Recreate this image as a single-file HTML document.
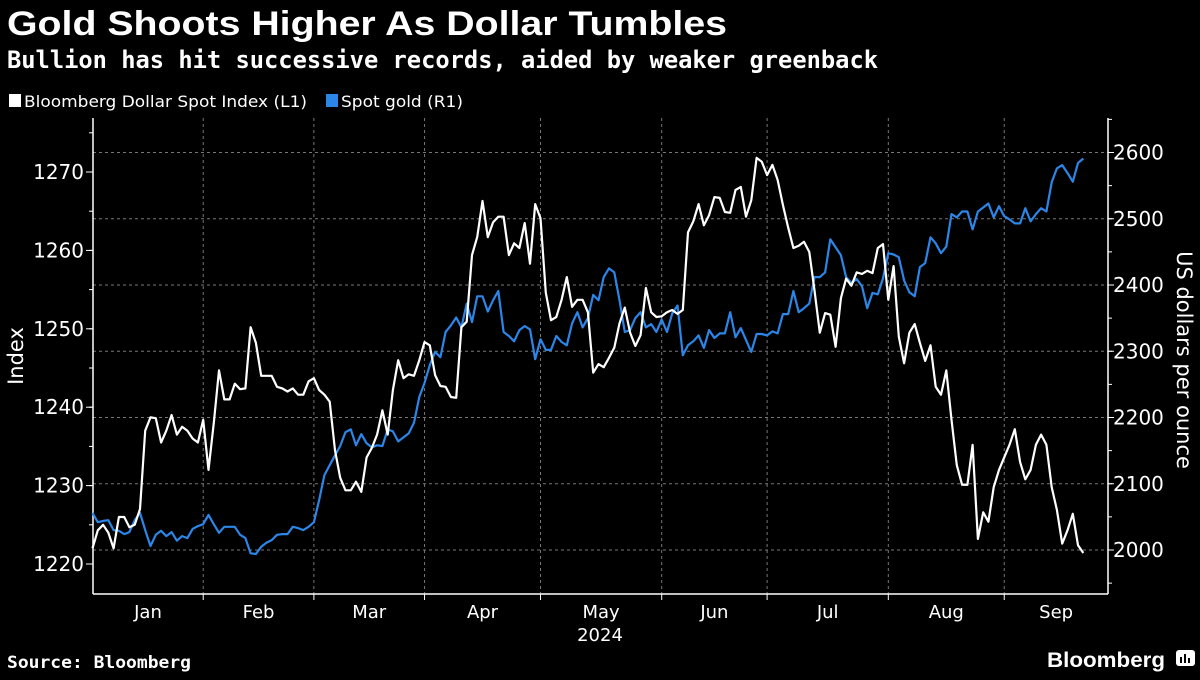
<!DOCTYPE html>
<html><head><meta charset="utf-8">
<style>
html,body{margin:0;padding:0;background:#000;}
body{width:1200px;height:675px;overflow:hidden;}
svg text{font-family:"DejaVu Sans","Liberation Sans",sans-serif;fill:#fff;}
</style></head>
<body>
<svg id="chart" width="1200" height="675" viewBox="0 0 1200 675" xmlns="http://www.w3.org/2000/svg">
<rect x="0" y="0" width="1200" height="675" fill="#000"/>
<text x="7" y="35" font-size="34" font-weight="bold" textLength="720" lengthAdjust="spacingAndGlyphs" style="font-family:'Liberation Sans',sans-serif">Gold Shoots Higher As Dollar Tumbles</text>
<text x="7" y="68" font-size="24" font-weight="bold" textLength="871" lengthAdjust="spacingAndGlyphs" style="font-family:'DejaVu Sans Mono',monospace">Bullion has hit successive records, aided by weaker greenback</text>
<g>
<g><rect x="9" y="94" width="12" height="13" fill="#fff"/><text x="24" y="107" font-size="16" textLength="283" lengthAdjust="spacingAndGlyphs">Bloomberg Dollar Spot Index (L1)</text></g>
<g><rect x="326" y="94" width="12" height="13" fill="#2b86e8"/><text x="341" y="107" font-size="16" textLength="122" lengthAdjust="spacingAndGlyphs">Spot gold (R1)</text></g>
</g>
<g id="grid"></g>
<g id="axes"></g>
<g id="series"></g>
<text transform="translate(23,356) rotate(-90)" text-anchor="middle" font-size="21">Index</text>
<text transform="translate(1177,360) rotate(90)" text-anchor="middle" font-size="21">US dollars per ounce</text>
<text x="600" y="641" text-anchor="middle" font-size="18">2024</text>
<text x="7" y="668" font-size="17" font-weight="bold" textLength="184" lengthAdjust="spacingAndGlyphs" style="font-family:'DejaVu Sans Mono',monospace">Source: Bloomberg</text>
<text x="1047" y="667" font-size="21" font-weight="bold" textLength="118" lengthAdjust="spacingAndGlyphs" style="font-family:'Liberation Sans',sans-serif">Bloomberg</text>
<g><rect x="1176" y="650" width="19" height="16" rx="3" fill="#fff"/><rect x="1180" y="657" width="2" height="6" fill="#000"/><rect x="1184" y="654" width="2" height="9" fill="#000"/><rect x="1188" y="658" width="2" height="5" fill="#000"/></g>
</svg>
<script>
const dollarValues=[1222,1224.3,1225,1224,1222,1226,1226,1224.7,1225,1227,1237,1238.7,1238.6,1235.5,1237,1239,1236.5,1237.5,1237,1236,1235.5,1238.4,1232,1238,1244.7,1241,1241,1243,1242.3,1242.4,1250.2,1248.2,1244,1244,1244,1242.6,1242.4,1242,1242.4,1241.6,1241.6,1243.3,1243.7,1242.2,1241.6,1240.7,1234.5,1231,1229.4,1229.4,1230.5,1229.2,1233.6,1234.8,
1236.5,1239.6,1236.5,1242.2,1246,1243.7,1244.2,1244,1246,1248.3,1247.9,1244.1,1242.7,1242.6,1241.3,1241.2,1250.2,1250.9,1259.4,1261.7,1266.3,1261.7,1263.6,1264.3,1264.3,1259.4,1260.9,1260.3,1263.5,1258.3,1265.9,1264.1,1254.6,1251.1,1251.5,1253.7,1256.6,1252.8,1253.7,1253.7,1252.1,1244.4,1245.5,1245.1,1246.3,1247.6,1250.7,1252.7,1249.5,1247.8,1249.2,1255.2,1252.1,1251.5,1251.6,1252.1,1252.4,1251.9,1252.4,1262.3,1263.7,1265.9,1263.2,1264.5,1266.8,1266.7,1264.9,1264.8,1267.7,1268.1,1264.3,1266.4,1271.8,1271.3,1269.6,1270.9,1269,1265.8,1262.9,1260.3,1260.6,1261.1,1259.8,1254.9,1249.5,1252,1251.8,1247.7,1253.9,1256.4,1255.5,1257.2,1257,1257.4,1257.1,1260.3,1260.8,1253.7,1258,1249,1245.6,1249.5,1250.6,1248.2,1245.9,1247.9,1242.6,1241.6,1244.7,1238.4,1232.6,1230.1,1230.1,1235.2,1223.2,1226.6,1225.4,1229.8,1232,1233.6,1235.2,1237.2,1233,1230.8,1232,1235.2,1236.5,1235.2,1229.8,1226.9,1222.6,1224.3,1226.4,1222.4,1221.4];
const goldValues=[2056,2042,2044,2045,2030,2029,2024,2027,2045,2056,2030,2006,2023,2029,2021,2027,2014,2021,2018,2032,2036,2039,2053,2039,2026,2035,2035,2035,2023,2018,1995,1994,2005,2011,2015,2023,2024,2024,2035,2033,2030,2035,2042,2075,2113,2128,2143,2157,2178,2182,2158,2175,2161,2155,2158,2157,2182,2179,2164,2170,2176,2192,2231,2252,2279,2299,2291,2329,2339,2351,2336,2372,2344,2383,2383,2360,2377,2391,2329,2323,2315,2332,2338,2333,2288,2318,2302,2302,2323,2314,2309,2342,2359,2336,2350,2385,2377,2412,2425,2419,2377,2329,2332,2350,2359,2336,2341,2329,2348,2329,2357,2369,2294,2309,2315,2324,2305,2332,2320,2327,2327,2359,2321,2335,2317,2299,2326,2326,2324,2330,2327,2356,2356,2391,2359,2365,2372,2412,2412,2419,2469,2457,2445,2412,2403,2409,2398,2365,2388,2386,2410,2448,2446,2442,2407,2389,2383,2427,2433,2472,2463,2448,2458,2507,2502,2511,2511,2484,2511,2517,2523,2502,2519,2504,2499,2493,2493,2516,2496,2507,2516,2511,2555,2576,2581,2569,2556,2584,2591];
const monthLabels=["Jan","Feb","Mar","Apr","May","Jun","Jul","Aug","Sep"];
const monthStartIdx=[0,23,44,65,87,110,130,153,175];
const leftTicks=[1220,1230,1240,1250,1260,1270];
const rightTicks=[2000,2100,2200,2300,2400,2500,2600];
const firstIdx=2;

const NS="http://www.w3.org/2000/svg";
const X0=93,X1=1108,YT=118,YB=594;
function xScale(i){return 82+5.27*i;}
function yLeft(v){return 564-(v-1220)*7.84;}
function yRight(v){return 550-(v-2000)*0.6625;}
function mk(tag,attrs,parent){const e=document.createElementNS(NS,tag);for(const k in attrs)e.setAttribute(k,attrs[k]);parent.appendChild(e);return e;}
const grid=document.getElementById('grid'),axes=document.getElementById('axes'),series=document.getElementById('series');
rightTicks.forEach(v=>{const y=yRight(v);
 const g=mk('line',{x1:X0,x2:X1,y1:y,y2:y,stroke:'#777','stroke-width':1,'stroke-dasharray':'3,3'},grid);
 
 
 mk('line',{x1:X1,x2:X1+6,y1:y,y2:y,stroke:'#fff','stroke-width':1},axes);
 const t=mk('text',{x:1113,y:y+7,'font-size':20},axes);t.textContent=v;
 
 
});
for(let v=1950;v<=2650;v+=50){const y=yRight(v);if(y>YT&&y<YB)mk('line',{x1:X1,x2:X1+4,y1:y,y2:y,stroke:'#fff','stroke-width':1},axes);}
for(let v=1215;v<=1275;v+=5){const y=yLeft(v);if(y>YT&&y<YB)mk('line',{x1:X0-4,x2:X0,y1:y,y2:y,stroke:'#fff','stroke-width':1},axes);}
leftTicks.forEach(v=>{const y=yLeft(v);
 mk('line',{x1:X0-7,x2:X0,y1:y,y2:y,stroke:'#fff','stroke-width':1},axes);
 const t=mk('text',{x:84,y:y+7,'font-size':20,'text-anchor':'end'},axes);t.textContent=v;
 
 
});
monthStartIdx.forEach((mi,k)=>{const x=xScale(mi);
 if(k>0){const g=mk('line',{x1:x,x2:x,y1:YT,y2:YB,stroke:'#777','stroke-width':1,'stroke-dasharray':'3,3'},grid);
  
  
  mk('line',{x1:x,x2:x,y1:YB,y2:YB+6,stroke:'#fff','stroke-width':1},axes);}
 const nx=k<monthStartIdx.length-1?xScale(monthStartIdx[k+1]):X1;
 const cx=k===0?148:(x+nx)/2;
 const t=mk('text',{x:cx,y:618,'font-size':18,'text-anchor':'middle'},axes);t.textContent=monthLabels[k];
 
 
});
mk('line',{x1:X0,x2:X0,y1:YT,y2:YB,stroke:'#fff','stroke-width':1.5},axes);
mk('line',{x1:X1,x2:X1,y1:YT,y2:YB,stroke:'#fff','stroke-width':1.5},axes);
mk('line',{x1:X0,x2:X1,y1:YB,y2:YB,stroke:'#fff','stroke-width':1.5},axes);
function pts(arr,ys){return arr.map((v,i)=>xScale(firstIdx+i).toFixed(1)+','+ys(v).toFixed(1)).join(' ');}
const gl=mk('polyline',{points:pts(goldValues,yRight),fill:'none',stroke:'#2b86e8','stroke-width':2.2,'stroke-linejoin':'round'},series);


const dl=mk('polyline',{points:pts(dollarValues,yLeft),fill:'none',stroke:'#fff','stroke-width':2.2,'stroke-linejoin':'round'},series);


</script>
</body></html>
